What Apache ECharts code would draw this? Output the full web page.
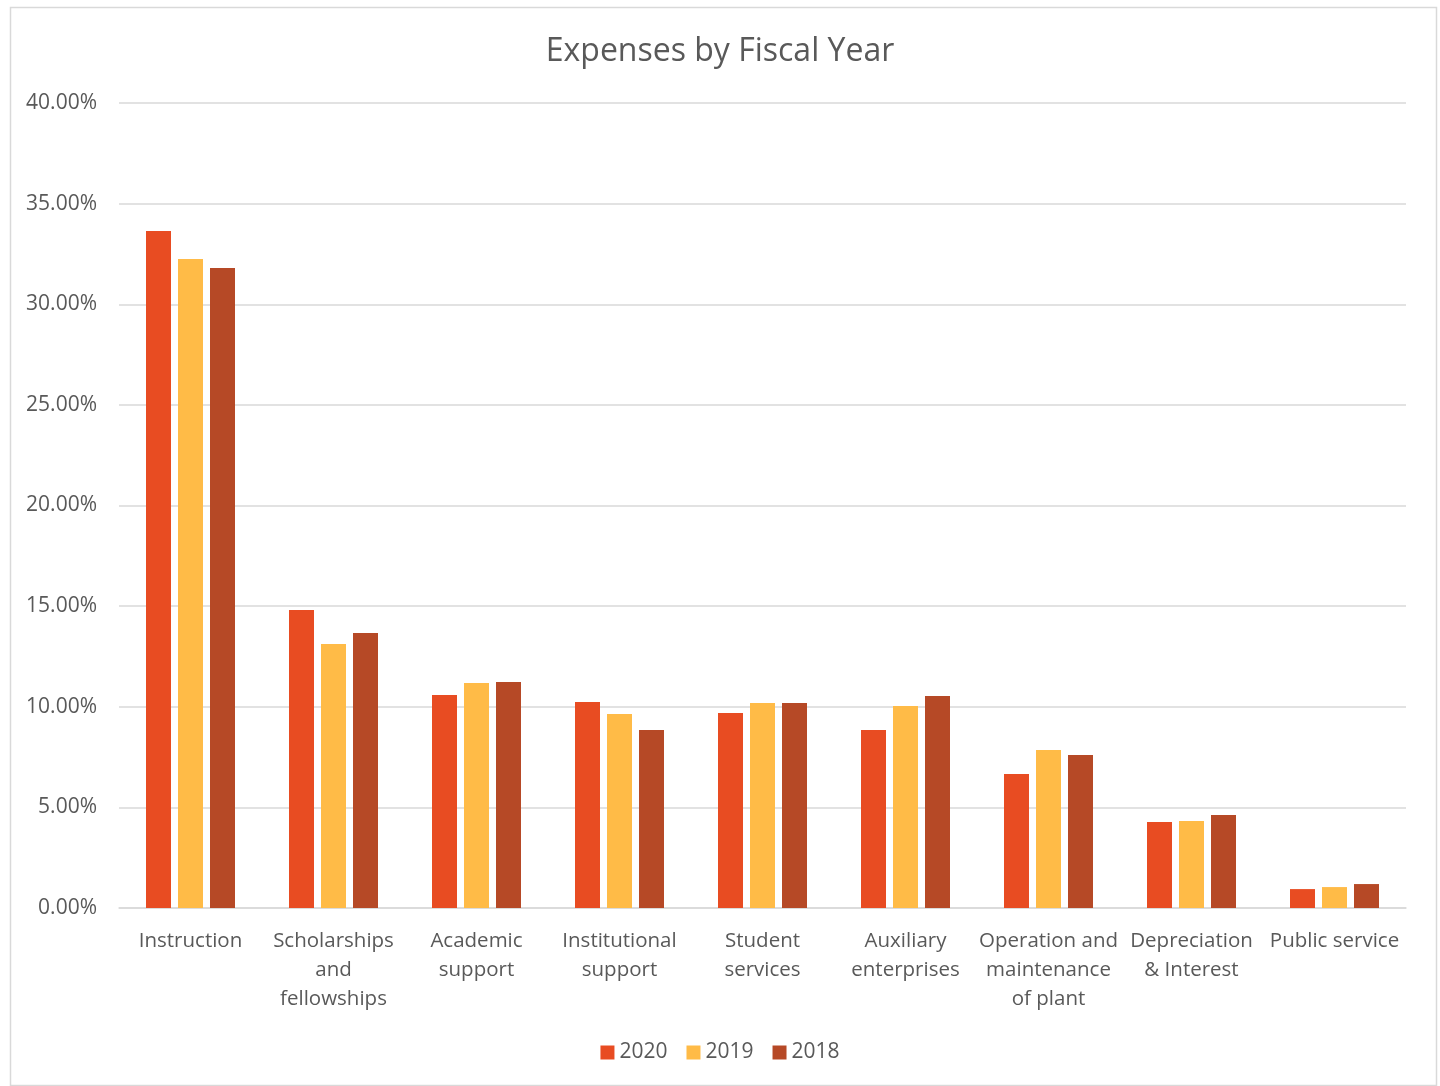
<!DOCTYPE html>
<html>
<head>
<meta charset="utf-8">
<script src="https://cdn.jsdelivr.net/npm/echarts@6/dist/echarts.min.js"></script>
<style>
  html, body { margin: 0; padding: 0; background: #fff; }
  #chart { width: 1440px; height: 1086px; }
</style>
</head>
<body>
<div id="chart"></div>
<script>
// Expense categories (line breaks as shown on the axis)
const categories = [
  'Instruction',
  'Scholarships\nand\nfellowships',
  'Academic\nsupport',
  'Institutional\nsupport',
  'Student\nservices',
  'Auxiliary\nenterprises',
  'Operation and\nmaintenance\nof plant',
  'Depreciation\n& Interest',
  'Public service'
];

// Share of total expenses, percent
const fy2020 = [33.64, 14.81, 10.58, 10.24, 9.69, 8.84, 6.66, 4.27, 0.94];
const fy2019 = [32.25, 13.12, 11.18, 9.64, 10.19, 10.04, 7.85, 4.32, 1.04];
const fy2018 = [31.80, 13.66, 11.23, 8.84, 10.19, 10.53, 7.60, 4.62, 1.19];

const seriesNames = ['2020', '2019', '2018'];
const seriesColors = ['#E84C22', '#FFBB47', '#B64926'];

const textColor = '#595959';
const fontFamily = '"Open Sans", "DejaVu Sans", sans-serif';

const chart = echarts.init(document.getElementById('chart'), null, { renderer: 'canvas' });

const makeBar = (name, data, color) => ({
  name: name,
  type: 'bar',
  data: data,
  barWidth: 25,
  barGap: '28%',
  itemStyle: { color: color },
  animation: false
});

chart.setOption({
  backgroundColor: '#ffffff',
  textStyle: { fontFamily: fontFamily, color: textColor },
  graphic: [{
    type: 'rect',
    left: 8, top: 5,
    shape: { width: 1426, height: 1078 },
    style: { fill: 'none', stroke: '#D9D9D9', lineWidth: 1.5 },
    silent: true
  }],
  title: {
    text: 'Expenses by Fiscal Year',
    left: 'center',
    top: 31,
    textStyle: { fontFamily: fontFamily, fontSize: 32, fontWeight: 'normal', color: textColor }
  },
  legend: {
    data: seriesNames,
    bottom: 18,
    left: 'center',
    itemWidth: 14,
    itemHeight: 14,
    itemGap: 19,
    icon: 'rect',
    textStyle: { fontFamily: fontFamily, fontSize: 21, color: textColor }
  },
  grid: { left: 119, right: 34, top: 103, bottom: 178, containLabel: false },
  xAxis: {
    type: 'category',
    data: categories,
    axisLine: { lineStyle: { color: '#D9D9D9', width: 1.5 } },
    axisTick: { show: false },
    axisLabel: {
      interval: 0,
      color: textColor,
      fontFamily: fontFamily,
      fontSize: 20.5,
      lineHeight: 29,
      margin: 19,
      align: 'center'
    }
  },
  yAxis: {
    type: 'value',
    min: 0,
    max: 40,
    interval: 5,
    axisLine: { show: false },
    axisTick: { show: false },
    splitLine: { lineStyle: { color: '#D9D9D9', width: 1.5 } },
    axisLabel: {
      color: textColor,
      fontFamily: fontFamily,
      fontSize: 21,
      margin: 22,
      formatter: v => v.toFixed(2) + '%'
    }
  },
  series: [
    makeBar(seriesNames[0], fy2020, seriesColors[0]),
    makeBar(seriesNames[1], fy2019, seriesColors[1]),
    makeBar(seriesNames[2], fy2018, seriesColors[2])
  ]
});
</script>
</body>
</html>
